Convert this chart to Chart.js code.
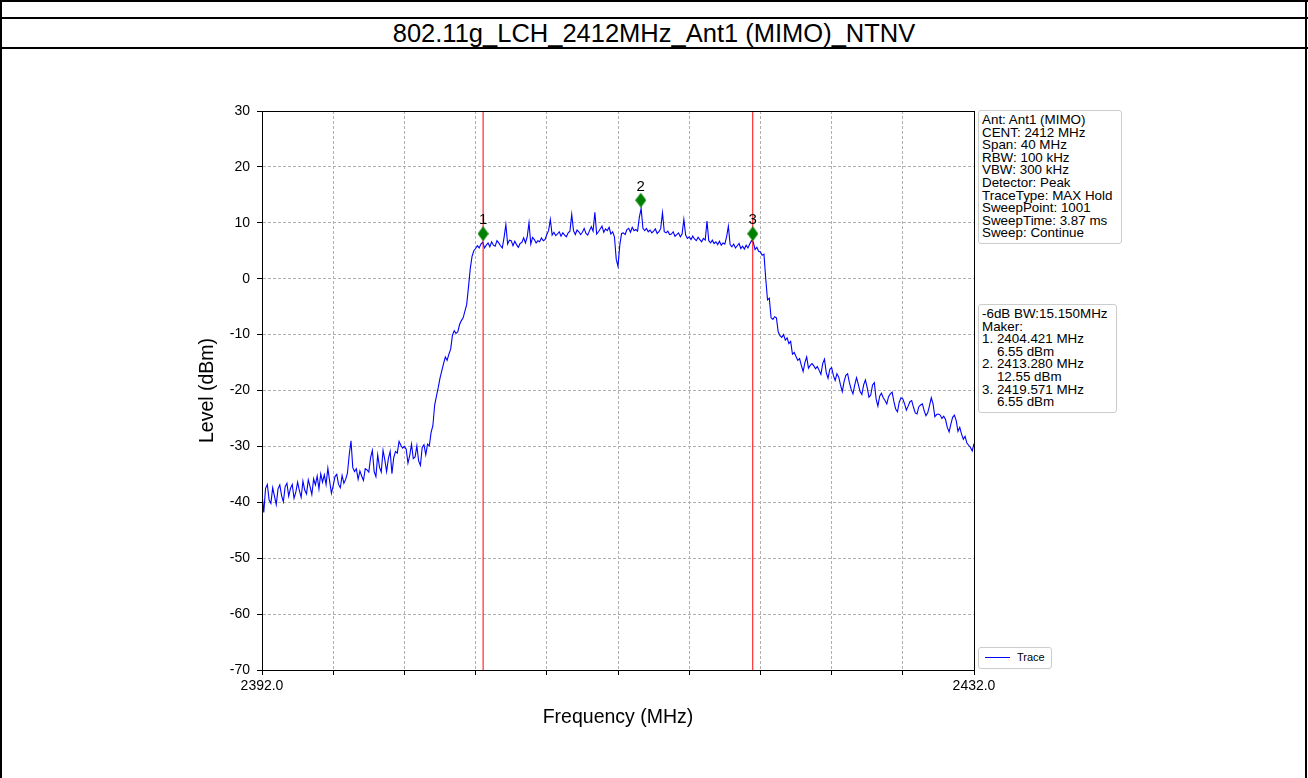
<!DOCTYPE html>
<html>
<head>
<meta charset="utf-8">
<script src="https://cdn.jsdelivr.net/npm/chart.js@4.4.0/dist/chart.umd.min.js"></script>
<style>
  html, body { margin: 0; padding: 0; background: #fff; }
  body { width: 1308px; height: 778px; position: relative; overflow: hidden;
         font-family: "Liberation Sans", Arial, sans-serif; color: #000; }
  .rule { position: absolute; background: #000; }
  #title { position: absolute; left: 0; top: 18px; width: 1308px; height: 30px;
           line-height: 30px; text-align: center; font-size: 25.5px; }
  #plot { position: absolute; left: 0; top: 48px; width: 1308px; height: 730px; }
  .info { position: absolute; border: 1px solid #cccccc; border-radius: 3px; background: #fff;
          font-size: 13.4px; line-height: 12.6px; white-space: pre; padding: 3px 4px 3px 3px; }
  #legend { position: absolute; left: 978px; top: 647px; width: 72px; height: 20px;
            border: 1px solid #cccccc; border-radius: 3px; background: #fff; font-size: 11px; }
  #legend .swatch { position: absolute; left: 6px; top: 9px; width: 25px; height: 1px; background: #0000ff; }
  #legend .name { position: absolute; left: 38px; top: 3px; }
</style>
</head>
<body>
<div class="rule" style="left:0;top:0;width:1308px;height:2px"></div>
<div class="rule" style="left:0;top:17px;width:1308px;height:2px"></div>
<div class="rule" style="left:0;top:47px;width:1308px;height:2px"></div>
<div class="rule" style="left:0;top:0;width:2px;height:778px"></div>
<div class="rule" style="left:1305px;top:0;width:2px;height:778px"></div>
<div id="title"></div>
<div id="plot"><canvas id="spectrum"></canvas></div>
<div class="info" id="setupBox" style="left:978px;top:110px;width:135px"></div>
<div class="info" id="markerBox" style="left:978px;top:304px;width:130px"></div>
<div id="legend"><div class="swatch"></div><div class="name">Trace</div></div>

<script>
// Sweep: 2392 - 2432 MHz, trace sampled every 0.1 MHz
const chartTitle = '802.11g_LCH_2412MHz_Ant1 (MIMO)_NTNV';
const freqStart = 2392;
const freqStep = 0.1;
const traceLevels = [
  -38.5, -41.8, -37.5, -36.8, -39.6, -40.2, -37.4, -38.9, -40.4, -37.6,
  -36.9, -38.8, -39.9, -37.2, -36.6, -38.9, -37.5, -36.8, -39.3, -38.2,
  -36.4, -37.9, -39.1, -36.2, -37.8, -38.5, -36.0, -37.2, -38.6, -35.8,
  -36.9, -35.3, -37.6, -34.9, -36.4, -35.1, -36.8, -33.9, -36.2, -38.4,
  -37.0, -35.4, -35.0, -36.8, -37.4, -35.2, -36.6, -35.9, -34.8, -31.5,
  -29.0, -33.8, -34.5, -34.0, -35.9, -34.4, -35.3, -36.1, -34.0, -34.2,
  -34.6, -32.0, -30.7, -34.5, -35.4, -31.5, -33.7, -34.6, -30.7, -32.4,
  -34.5, -32.2, -30.9, -34.9, -32.0, -30.9, -31.2, -29.1, -29.8, -30.3,
  -30.0, -30.5, -33.0, -31.6, -29.6, -32.2, -31.9, -29.9, -32.6, -33.4,
  -30.2, -29.7, -31.5, -29.6, -29.9, -27.5, -26.3, -22.6, -21.0, -19.5,
  -17.8, -16.5, -15.2, -14.0, -14.6, -13.5, -12.6, -10.1, -9.3, -9.8,
  -9.5, -8.2, -7.5, -7.0, -5.8, -4.6, -1.5, 1.8, 4.0, 5.0,
  5.4, 5.9, 5.5, 6.2, 6.55, 5.5, 6.0, 6.4, 5.7, 6.6,
  6.0, 5.8, 6.8, 6.4, 5.9, 5.5, 7.4, 9.7, 6.2, 6.9,
  6.8, 5.9, 6.7, 6.1, 5.6, 6.3, 6.5, 7.3, 6.4, 7.5,
  10.0, 6.2, 7.4, 7.0, 6.4, 6.8, 6.6, 7.3, 6.8, 7.0,
  7.9, 8.6, 10.6, 7.8, 8.3, 7.7, 8.0, 8.4, 7.6, 8.2,
  7.8, 7.5, 8.2, 8.5, 11.5, 8.6, 7.9, 8.7, 8.4, 7.9,
  8.3, 9.0, 8.1, 7.8, 8.6, 9.3, 8.5, 11.9, 8.0, 8.4,
  8.9, 9.4, 8.3, 8.9, 8.6, 9.2, 8.0, 8.4, 7.5, 3.5,
  2.2, 6.0, 8.1, 8.2, 7.9, 8.8, 9.0, 8.3, 9.2, 8.6,
  8.8, 8.5, 11.0, 12.55, 9.0, 8.6, 9.0, 8.4, 8.7, 8.2,
  8.5, 8.9, 8.1, 8.4, 9.0, 11.8, 8.4, 8.2, 8.5, 7.9,
  8.0, 8.4, 7.6, 7.9, 8.2, 7.5, 8.0, 10.6, 7.8, 7.2,
  7.5, 7.0, 7.6, 7.1, 6.8, 7.4, 7.0, 6.6, 7.2, 6.9,
  10.3, 6.8, 6.4, 6.9, 6.3, 6.6, 6.1, 6.7, 6.0, 6.4,
  6.2, 7.5, 9.4, 6.1, 5.7, 6.2, 5.5, 5.9, 6.3, 5.4,
  5.8, 5.3, 6.0, 5.5, 6.2, 6.8, 6.55, 5.2, 5.6, 4.9,
  4.8, 4.2, 4.4, 0.0, -3.8, -3.5, -7.0, -7.3, -6.8, -7.0,
  -9.5, -10.2, -10.5, -10.0, -11.0, -10.6, -11.6, -11.2, -13.5, -13.2,
  -13.9, -14.6, -14.3, -15.5, -16.6, -15.0, -14.0, -16.0, -15.5, -15.2,
  -15.6, -16.1, -15.7, -16.4, -17.1, -15.2, -14.4, -16.8, -17.8, -16.2,
  -15.9, -17.3, -18.2, -17.0, -17.6, -19.0, -20.2, -18.4, -17.3, -17.0,
  -18.6, -19.8, -20.6, -19.0, -17.7, -18.9, -20.2, -20.7, -19.0, -18.1,
  -19.5, -21.2, -20.8, -19.0, -18.6, -21.5, -22.8, -21.0, -20.5, -21.3,
  -21.8, -22.4, -21.1, -20.6, -20.3, -22.0, -23.3, -23.8, -22.1, -21.3,
  -21.5, -22.4, -23.5, -22.8, -22.0, -21.8, -23.0, -24.0, -24.2, -22.9,
  -22.6, -22.4, -23.6, -24.5, -24.0, -22.7, -21.3, -22.4, -24.7, -24.3,
  -24.2, -24.4, -25.0, -24.6, -25.2, -26.6, -27.4, -26.0, -24.8, -24.4,
  -25.4, -27.3, -26.6, -27.8, -28.7, -28.2, -29.4, -29.8, -30.2, -30.8,
  -29.5
];

// markers (freq MHz / level dBm); 1 and 3 are the -6 dB band edges
const markerFreqs = [2404.421, 2413.280, 2419.571];
const markerLevels = [6.55, 12.55, 6.55];
const markerNames = ['1', '2', '3'];
const edgeMarkers = [0, 2];
const markerLift = 1.5;          // diamonds sit a little above the trace
const bandwidthLabel = '-6dB BW:15.150MHz';

const setupLines = [
  'Ant: Ant1 (MIMO)', 'CENT: 2412 MHz', 'Span: 40 MHz', 'RBW: 100 kHz', 'VBW: 300 kHz',
  'Detector: Peak', 'TraceType: MAX Hold', 'SweepPoint: 1001', 'SweepTime: 3.87 ms', 'Sweep: Continue'
];

const freqRange = [2392, 2432];
const freqTickStep = 4;
const levelRange = [-70, 30];
const levelTickStep = 10;

document.getElementById('title').textContent = chartTitle;
document.getElementById('setupBox').textContent = setupLines.join('\n');

const markerLines = [bandwidthLabel, 'Maker:'];
markerFreqs.forEach((f, i) => {
  markerLines.push(`${markerNames[i]}. ${f.toFixed(3)} MHz`);
  markerLines.push(`    ${markerLevels[i].toFixed(2)} dBm`);
});
document.getElementById('markerBox').textContent = markerLines.join('\n');

// thin diamond used as the marker symbol
function makeDiamond(w, h, color) {
  const c = document.createElement('canvas');
  c.width = w;
  c.height = h;
  const g = c.getContext('2d');
  g.fillStyle = color;
  g.beginPath();
  g.moveTo(w / 2, 0);
  g.lineTo(w, h / 2);
  g.lineTo(w / 2, h);
  g.lineTo(0, h / 2);
  g.closePath();
  g.fill();
  return c;
}

const tracePoints = traceLevels.map((v, i) => ({ x: freqStart + i * freqStep, y: v }));
const markerPoints = markerFreqs.map((f, i) => ({ x: f, y: markerLevels[i] + markerLift }));

const edgeLineSets = edgeMarkers.map(i => ({
  label: 'edge' + markerNames[i],
  data: [{ x: markerFreqs[i], y: levelRange[0] }, { x: markerFreqs[i], y: levelRange[1] }],
  borderColor: '#ff0000',
  borderWidth: 1,
  pointRadius: 0,
  order: 2
}));

// frame around the plot area plus the marker numbers
const framePlugin = {
  id: 'frame',
  afterDatasetsDraw(chart) {
    const { ctx, chartArea: a } = chart;
    ctx.save();
    ctx.strokeStyle = '#000';
    ctx.lineWidth = 1;
    ctx.strokeRect(Math.round(a.left) + 0.5, Math.round(a.top) + 0.5,
                   Math.round(a.right - a.left), Math.round(a.bottom - a.top));
    const meta = chart.getDatasetMeta(0);
    ctx.fillStyle = '#000';
    ctx.font = '15px "Liberation Sans", Arial, sans-serif';
    ctx.textAlign = 'center';
    ctx.textBaseline = 'bottom';
    meta.data.forEach((pt, i) => {
      ctx.fillText(markerNames[i], pt.x, pt.y - 6);
    });
    ctx.restore();
  }
};

const axisFont = { family: '"Liberation Sans", Arial, sans-serif', size: 14 };
const titleFont = { family: '"Liberation Sans", Arial, sans-serif', size: 19.5 };

new Chart(document.getElementById('spectrum'), {
  type: 'line',
  data: {
    datasets: [
      {
        label: 'Markers',
        data: markerPoints,
        showLine: false,
        pointStyle: makeDiamond(11, 15, '#008000'),
        pointRadius: 7,
        order: 0
      },
      ...edgeLineSets,
      {
        label: 'Trace',
        data: tracePoints,
        borderColor: '#0000ff',
        borderWidth: 1.1,
        pointRadius: 0,
        tension: 0,
        order: 3
      }
    ]
  },
  options: {
    responsive: true,
    maintainAspectRatio: false,
    animation: false,
    parsing: false,
    layout: { padding: { left: 192, right: 334, top: 63, bottom: 48 } },
    plugins: {
      legend: { display: false },
      tooltip: { enabled: false }
    },
    scales: {
      x: {
        type: 'linear',
        min: freqRange[0],
        max: freqRange[1],
        afterFit(scale) { scale.height = 60; },
        afterBuildTicks(scale) {
          const ticks = [];
          for (let v = freqRange[0]; v <= freqRange[1]; v += freqTickStep) ticks.push({ value: v });
          scale.ticks = ticks;
        },
        ticks: {
          color: '#000',
          font: axisFont,
          padding: 3,
          maxRotation: 0,
          autoSkip: false,
          callback: v => (v === freqRange[0] || v === freqRange[1]) ? v.toFixed(1) : ''
        },
        grid: { color: '#b0b0b0', lineWidth: 1, tickLength: 5, tickColor: '#000' },
        border: { color: '#000', width: 1, dash: [3, 2] },
        title: { display: true, text: 'Frequency (MHz)', color: '#000', font: titleFont, padding: { top: 0, bottom: 1 } }
      },
      y: {
        type: 'linear',
        min: levelRange[0],
        max: levelRange[1],
        afterFit(scale) { scale.width = 70; },
        ticks: { stepSize: levelTickStep, color: '#000', font: axisFont, padding: 7 },
        grid: { color: '#b0b0b0', lineWidth: 1, tickLength: 5, tickColor: '#000' },
        border: { color: '#000', width: 1, dash: [3, 2] },
        title: { display: true, text: 'Level (dBm)', color: '#000', font: titleFont, padding: { top: 4, bottom: 0 } }
      }
    }
  },
  plugins: [framePlugin]
});
</script>
</body>
</html>
